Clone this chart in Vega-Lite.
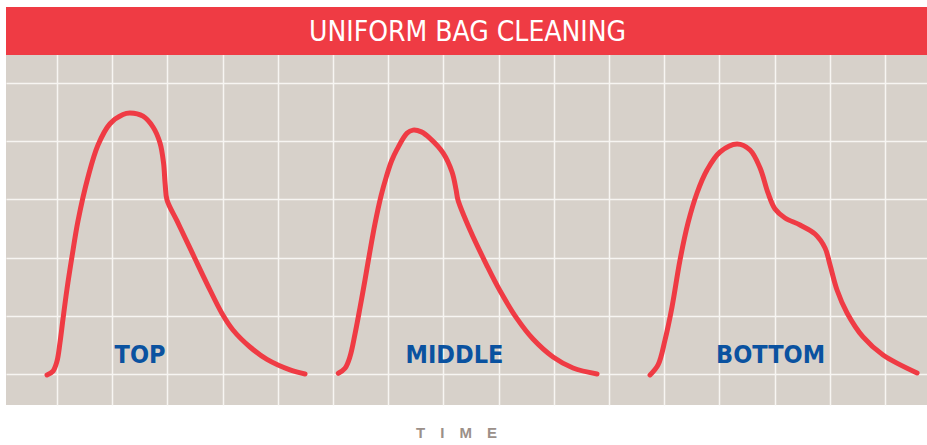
{
  "$schema": "https://vega.github.io/schema/vega-lite/v6.json",
  "width": 921,
  "height": 398,
  "autosize": {"type": "none"},
  "padding": {"left": 6, "top": 7, "right": 0, "bottom": 40},
  "background": "#ffffff",
  "config": {"view": {"fill": "#d7d1ca", "stroke": null}},
  "datasets": {
    "curves": [
      {"series": "TOP", "t": -0.181, "L": -0.017},
      {"series": "TOP", "t": -0.072, "L": 0.05},
      {"series": "TOP", "t": 0.0, "L": 0.22},
      {"series": "TOP", "t": 0.054, "L": 0.54},
      {"series": "TOP", "t": 0.109, "L": 0.95},
      {"series": "TOP", "t": 0.181, "L": 1.46},
      {"series": "TOP", "t": 0.272, "L": 2.02},
      {"series": "TOP", "t": 0.380, "L": 2.630},
      {"series": "TOP", "t": 0.562, "L": 3.385},
      {"series": "TOP", "t": 0.743, "L": 3.935},
      {"series": "TOP", "t": 0.960, "L": 4.300},
      {"series": "TOP", "t": 1.196, "L": 4.460},
      {"series": "TOP", "t": 1.322, "L": 4.485},
      {"series": "TOP", "t": 1.558, "L": 4.430},
      {"series": "TOP", "t": 1.739, "L": 4.244},
      {"series": "TOP", "t": 1.866, "L": 3.969},
      {"series": "TOP", "t": 1.930, "L": 3.625},
      {"series": "TOP", "t": 1.960, "L": 3.250},
      {"series": "TOP", "t": 1.993, "L": 2.990},
      {"series": "TOP", "t": 2.174, "L": 2.630},
      {"series": "TOP", "t": 2.355, "L": 2.270},
      {"series": "TOP", "t": 2.500, "L": 1.980},
      {"series": "TOP", "t": 2.717, "L": 1.550},
      {"series": "TOP", "t": 2.989, "L": 1.040},
      {"series": "TOP", "t": 3.188, "L": 0.756},
      {"series": "TOP", "t": 3.496, "L": 0.464},
      {"series": "TOP", "t": 3.804, "L": 0.250},
      {"series": "TOP", "t": 4.221, "L": 0.070},
      {"series": "TOP", "t": 4.493, "L": 0.0},
      {"series": "MIDDLE", "t": 5.096, "L": 0.012},
      {"series": "MIDDLE", "t": 5.217, "L": 0.098},
      {"series": "MIDDLE", "t": 5.308, "L": 0.30},
      {"series": "MIDDLE", "t": 5.399, "L": 0.69},
      {"series": "MIDDLE", "t": 5.489, "L": 1.14},
      {"series": "MIDDLE", "t": 5.580, "L": 1.62},
      {"series": "MIDDLE", "t": 5.660, "L": 2.06},
      {"series": "MIDDLE", "t": 5.760, "L": 2.58},
      {"series": "MIDDLE", "t": 5.870, "L": 3.06},
      {"series": "MIDDLE", "t": 5.969, "L": 3.40},
      {"series": "MIDDLE", "t": 6.060, "L": 3.66},
      {"series": "MIDDLE", "t": 6.159, "L": 3.86},
      {"series": "MIDDLE", "t": 6.341, "L": 4.14},
      {"series": "MIDDLE", "t": 6.449, "L": 4.190},
      {"series": "MIDDLE", "t": 6.600, "L": 4.160},
      {"series": "MIDDLE", "t": 6.757, "L": 4.050},
      {"series": "MIDDLE", "t": 6.993, "L": 3.800},
      {"series": "MIDDLE", "t": 7.156, "L": 3.470},
      {"series": "MIDDLE", "t": 7.230, "L": 3.162},
      {"series": "MIDDLE", "t": 7.264, "L": 2.990},
      {"series": "MIDDLE", "t": 7.482, "L": 2.474},
      {"series": "MIDDLE", "t": 7.790, "L": 1.859},
      {"series": "MIDDLE", "t": 8.025, "L": 1.429},
      {"series": "MIDDLE", "t": 8.333, "L": 0.950},
      {"series": "MIDDLE", "t": 8.623, "L": 0.600},
      {"series": "MIDDLE", "t": 8.986, "L": 0.292},
      {"series": "MIDDLE", "t": 9.348, "L": 0.103},
      {"series": "MIDDLE", "t": 9.783, "L": 0.0},
      {"series": "BOTTOM", "t": 10.743, "L": -0.017},
      {"series": "BOTTOM", "t": 10.888, "L": 0.155},
      {"series": "BOTTOM", "t": 11.014, "L": 0.584},
      {"series": "BOTTOM", "t": 11.141, "L": 1.151},
      {"series": "BOTTOM", "t": 11.286, "L": 1.959},
      {"series": "BOTTOM", "t": 11.431, "L": 2.595},
      {"series": "BOTTOM", "t": 11.594, "L": 3.110},
      {"series": "BOTTOM", "t": 11.775, "L": 3.505},
      {"series": "BOTTOM", "t": 12.011, "L": 3.814},
      {"series": "BOTTOM", "t": 12.319, "L": 3.952},
      {"series": "BOTTOM", "t": 12.554, "L": 3.849},
      {"series": "BOTTOM", "t": 12.736, "L": 3.540},
      {"series": "BOTTOM", "t": 12.880, "L": 3.110},
      {"series": "BOTTOM", "t": 13.007, "L": 2.835},
      {"series": "BOTTOM", "t": 13.188, "L": 2.680},
      {"series": "BOTTOM", "t": 13.460, "L": 2.560},
      {"series": "BOTTOM", "t": 13.732, "L": 2.405},
      {"series": "BOTTOM", "t": 13.913, "L": 2.165},
      {"series": "BOTTOM", "t": 14.004, "L": 1.873},
      {"series": "BOTTOM", "t": 14.130, "L": 1.443},
      {"series": "BOTTOM", "t": 14.312, "L": 1.048},
      {"series": "BOTTOM", "t": 14.601, "L": 0.636},
      {"series": "BOTTOM", "t": 14.964, "L": 0.326},
      {"series": "BOTTOM", "t": 15.580, "L": 0.017}
    ],
    "labels": [
      {"label": "TOP", "t": 1.504, "L": 0.19},
      {"label": "MIDDLE", "t": 7.20, "L": 0.19},
      {"label": "BOTTOM", "t": 12.926, "L": 0.19}
    ],
    "banner": [
      {"t": -0.924, "t2": 15.76, "L": 5.48, "L2": 6.306}
    ],
    "bannerText": [
      {"t": 7.437, "L": 5.722, "text": "UNIFORM BAG CLEANING"}
    ]
  },
  "encoding": {
    "x": {
      "field": "t", "type": "quantitative",
      "scale": {"domain": [-0.924, 15.76], "nice": false, "zero": false},
      "axis": {
        "values": [0,1,2,3,4,5,6,7,8,9,10,11,12,13,14,15],
        "grid": true, "gridColor": "#f7f5f2", "gridWidth": 1.5, "gridOpacity": 1,
        "labels": false, "ticks": false, "domain": false,
        "title": "T\u2003I\u2003M\u2003E",
        "titleFont": "Liberation Sans", "titleFontSize": 15, "titleFontWeight": "bold",
        "titleColor": "#9b9089", "titleBaseline": "alphabetic", "titlePadding": 32, "titleX": 450
      }
    },
    "y": {
      "field": "L", "type": "quantitative",
      "scale": {"domain": [-0.533, 6.306], "nice": false, "zero": false},
      "axis": {
        "values": [0,1,2,3,4,5,6],
        "grid": true, "gridColor": "#f7f5f2", "gridWidth": 1.5, "gridOpacity": 1,
        "labels": false, "ticks": false, "domain": false, "title": null
      }
    }
  },
  "layer": [
    {
      "data": {"name": "curves"},
      "mark": {"type": "line", "color": "#ef3b44", "strokeWidth": 5, "strokeCap": "round", "strokeJoin": "round", "interpolate": "catmull-rom"},
      "encoding": {
        "detail": {"field": "series"}
      }
    },
    {
      "data": {"name": "labels"},
      "mark": {"type": "text", "color": "#0a52a0", "font": "DejaVu Sans Condensed", "fontSize": 25, "fontWeight": "bold", "baseline": "alphabetic", "align": "center"},
      "encoding": {
        "text": {"field": "label"}
      }
    },
    {
      "data": {"name": "banner"},
      "mark": {"type": "rect", "color": "#ef3b44"},
      "encoding": {
        "x2": {"field": "t2"},
        "y2": {"field": "L2"}
      }
    },
    {
      "data": {"name": "bannerText"},
      "mark": {"type": "text", "color": "#ffffff", "font": "DejaVu Sans Condensed", "fontSize": 28, "baseline": "alphabetic", "align": "center"},
      "encoding": {
        "text": {"field": "text"}
      }
    }
  ]
}
